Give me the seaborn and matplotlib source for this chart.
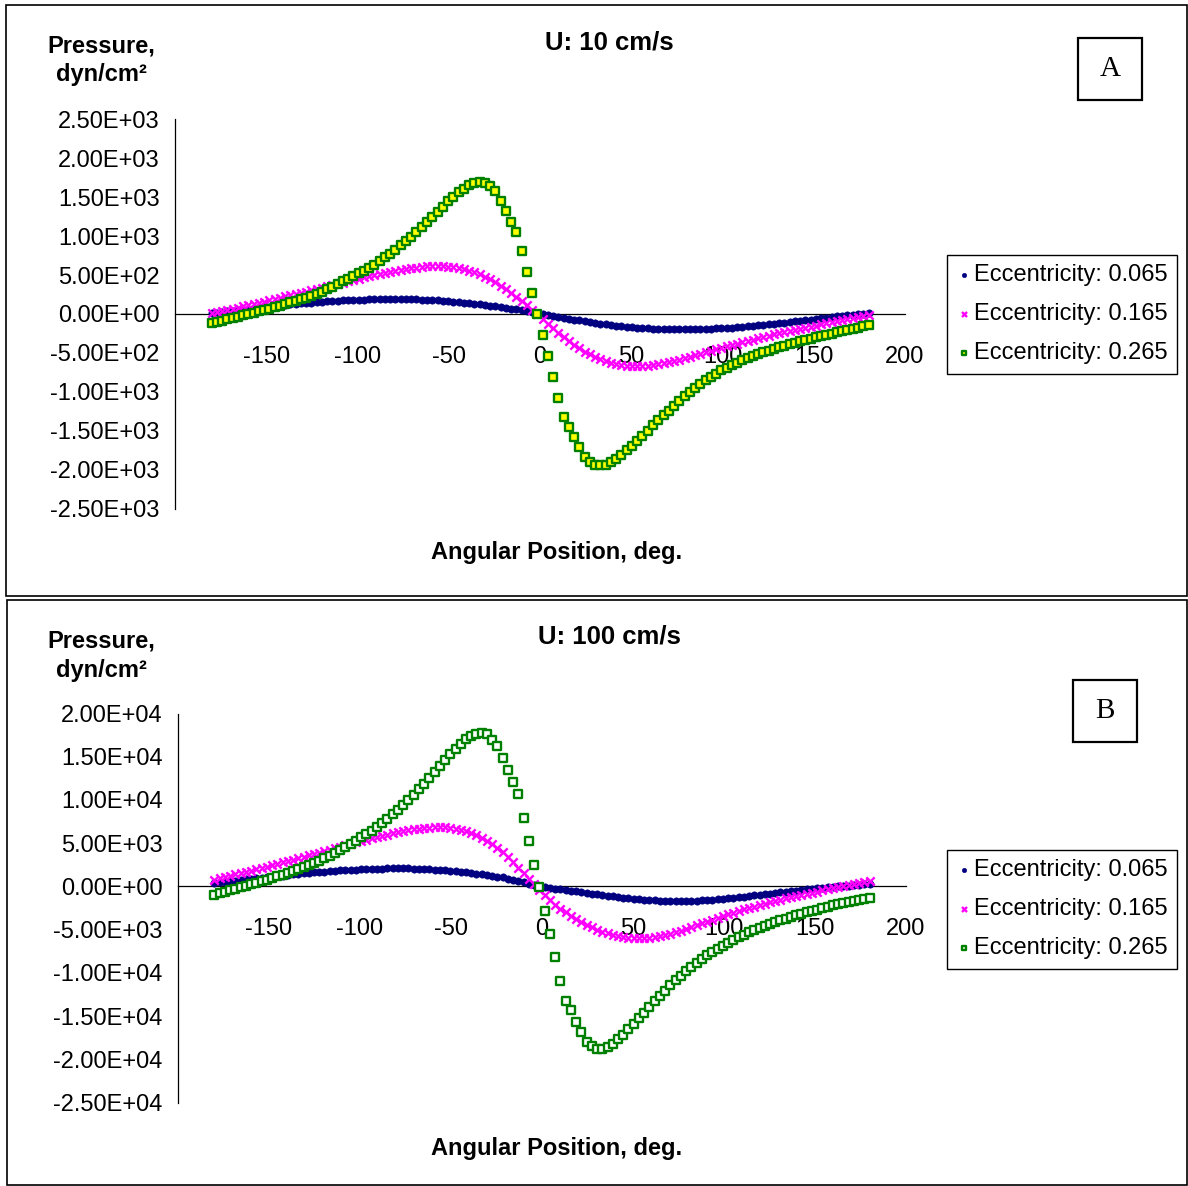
import matplotlib
matplotlib.use('Agg')
import matplotlib.pyplot as plt
import seaborn as sns
from matplotlib.patches import Rectangle

# Angular positions (deg), same grid for every series
ANGLE = [-180.00, -177.12, -174.24, -171.36, -168.48, -165.60, -162.72, -159.84, -156.96, -154.08,
         -151.20, -148.32, -145.44, -142.56, -139.68, -136.80, -133.92, -131.04, -128.16, -125.28,
         -122.40, -119.52, -116.64, -113.76, -110.88, -108.00, -105.12, -102.24, -99.36, -96.48,
         -93.60, -90.72, -87.84, -84.96, -82.08, -79.20, -76.32, -73.44, -70.56, -67.68,
         -64.80, -61.92, -59.04, -56.16, -53.28, -50.40, -47.52, -44.64, -41.76, -38.88,
         -36.00, -33.12, -30.24, -27.36, -24.48, -21.60, -18.72, -15.84, -12.96, -10.08,
         -7.20, -4.32, -1.44,
         1.44, 4.32, 7.20, 10.08, 12.96, 15.84, 18.72, 21.60, 24.48, 27.36,
         30.24, 33.12, 36.00, 38.88, 41.76, 44.64, 47.52, 50.40, 53.28, 56.16,
         59.04, 61.92, 64.80, 67.68, 70.56, 73.44, 76.32, 79.20, 82.08, 84.96,
         87.84, 90.72, 93.60, 96.48, 99.36, 102.24, 105.12, 108.00, 110.88, 113.76,
         116.64, 119.52, 122.40, 125.28, 128.16, 131.04, 133.92, 136.80, 139.68, 142.56,
         145.44, 148.32, 151.20, 154.08, 156.96, 159.84, 162.72, 165.60, 168.48, 171.36,
         174.24, 177.12, 180.00]

# U = 10 cm/s, pressure in dyn/cm^2
U10_E065 = [9, 17, 25, 33, 41, 49, 57, 65, 73, 81,
            88, 95, 102, 109, 116, 123, 129, 135, 141, 146,
            152, 157, 161, 166, 170, 174, 177, 180, 183, 186,
            188, 189, 191, 192, 193, 193, 193, 192, 191, 189,
            186, 183, 179, 175, 170, 165, 159, 153, 146, 139,
            131, 123, 115, 106, 97, 88, 78, 68, 58, 47,
            36, 25, 14,
            2, -10, -23, -36, -48, -60, -72, -83, -94, -105,
            -115, -124, -133, -141, -149, -156, -163, -169, -175, -180,
            -184, -188, -191, -194, -196, -197, -198, -198, -197, -196,
            -194, -192, -189, -186, -182, -178, -174, -169, -164, -158,
            -152, -146, -140, -133, -126, -119, -111, -104, -96, -88,
            -80, -72, -64, -56, -48, -40, -32, -24, -16, -8,
            -1, 6, 13]
U10_E165 = [8, 23, 38, 53, 68, 83, 97, 111, 126, 143,
            160, 177, 193, 208, 225, 240, 257, 273, 289, 306,
            322, 338, 355, 371, 388, 404, 421, 438, 454, 470,
            485, 501, 516, 530, 545, 557, 569, 580, 590, 597,
            604, 611, 614, 615, 613, 608, 600, 588, 575, 556,
            534, 508, 478, 444, 406, 365, 320, 272, 221, 168,
            112, 56, 1,
            -61, -123, -184, -243, -299, -350, -399, -443, -484, -520,
            -552, -580, -604, -624, -640, -653, -663, -669, -672, -671,
            -666, -658, -647, -634, -619, -603, -586, -568, -550, -531,
            -512, -493, -474, -455, -436, -417, -398, -380, -362, -345,
            -328, -311, -295, -279, -263, -248, -233, -218, -204, -190,
            -176, -162, -148, -134, -121, -107, -94, -81, -68, -55,
            -42, -28, -15]
U10_E265 = [-120, -103, -86, -69, -52, -35, -18, -1, 16, 34,
            52, 70, 89, 108, 128, 148, 169, 190, 212, 235,
            260, 288, 318, 350, 384, 418, 452, 486, 521, 557,
            595, 636, 680, 727, 776, 827, 881, 937, 995, 1055,
            1117, 1181, 1246, 1313, 1381, 1447, 1508, 1563, 1612, 1652,
            1680, 1692, 1688, 1640, 1581, 1456, 1320, 1187, 1059, 811,
            538, 264, 0,
            -269, -538, -812, -1081, -1325, -1453, -1585, -1714, -1838, -1897,
            -1940, -1945, -1940, -1903, -1860, -1810, -1752, -1692, -1628, -1563,
            -1498, -1433, -1368, -1304, -1241, -1178, -1116, -1057, -1002, -950,
            -901, -854, -809, -766, -725, -689, -656, -625, -596, -569,
            -543, -518, -494, -471, -449, -428, -408, -389, -370, -352,
            -334, -317, -300, -283, -267, -251, -235, -219, -204, -189,
            -174, -159, -144]

# U = 100 cm/s
U100_E065 = [440, 500, 560, 620, 680, 740, 800, 860, 920, 980,
             1030, 1100, 1170, 1240, 1310, 1380, 1440, 1500, 1560, 1610,
             1670, 1720, 1760, 1810, 1850, 1890, 1920, 1950, 1980, 2010,
             2030, 2040, 2060, 2070, 2080, 2080, 2080, 2070, 2060, 2040,
             2010, 1980, 1940, 1900, 1850, 1800, 1740, 1680, 1610, 1540,
             1460, 1380, 1300, 1210, 1120, 1030, 890, 750, 610, 450,
             290, 140, 10,
             -90, -170, -250, -330, -410, -490, -570, -660, -750, -840,
             -920, -990, -1080, -1160, -1240, -1310, -1380, -1440, -1500, -1550,
             -1590, -1630, -1660, -1690, -1710, -1720, -1730, -1730, -1700, -1670,
             -1630, -1590, -1540, -1490, -1430, -1370, -1310, -1240, -1175, -1100,
             -1030, -960, -900, -830, -760, -690, -610, -550, -480, -415,
             -350, -290, -230, -175, -120, -65, -10, 45, 100, 155,
             200, 245, 290]
U100_E165 = [780, 930, 1080, 1230, 1380, 1530, 1670, 1810, 1960, 2130,
             2300, 2470, 2630, 2780, 2950, 3100, 3270, 3430, 3590, 3760,
             3920, 4080, 4250, 4410, 4580, 4740, 4910, 5080, 5240, 5400,
             5550, 5710, 5860, 6000, 6150, 6270, 6390, 6500, 6600, 6670,
             6740, 6810, 6840, 6850, 6830, 6780, 6695, 6568, 6415, 6200,
             5940, 5640, 5285, 4890, 4425, 3930, 3385, 2800, 2180, 1530,
             860, 220, -385,
             -1005, -1575, -2100, -2580, -3020, -3420, -3805, -4150, -4475, -4750,
             -5015, -5240, -5440, -5600, -5735, -5842, -5935, -5990, -6020, -6010,
             -5960, -5880, -5770, -5640, -5475, -5295, -5110, -4910, -4710, -4500,
             -4290, -4080, -3870, -3665, -3460, -3250, -3045, -2850, -2670, -2500,
             -2330, -2160, -2000, -1840, -1680, -1530, -1380, -1230, -1104, -978,
             -852, -726, -600, -472, -354, -226, -108, 10, 132, 254,
             376, 508, 630]
U100_E265 = [-998, -821, -644, -468, -291, -114, 63, 240, 416, 604,
             791, 978, 1176, 1373, 1581, 1789, 2008, 2226, 2455, 2694,
             2954, 3245, 3557, 3890, 4244, 4597, 4951, 5304, 5668, 6043,
             6438, 6864, 7322, 7811, 8320, 8851, 9412, 9995, 10598, 11222,
             11867, 12532, 13208, 13905, 14612, 15299, 15933, 16505, 17015, 17431,
             17650, 17720, 17650, 16920, 16230, 14806, 13456, 12117, 10686, 7963,
             5193, 2493, -115,
             -2816, -5504, -8193, -10894, -13202, -14300, -15650, -16848, -17950, -18430,
             -18800, -18760, -18610, -18199, -17702, -17160, -16548, -15910, -15270, -14621,
             -13910, -13271, -12660, -12050, -11450, -10880, -10317, -9809, -9313, -8851,
             -8400, -7980, -7580, -7200, -6840, -6500, -6180, -5880, -5600, -5330,
             -5070, -4810, -4550, -4340, -4135, -3935, -3740, -3550, -3365, -3185,
             -3010, -2840, -2675, -2515, -2360, -2210, -2065, -1925, -1790, -1660,
             -1535, -1415, -1300]

LABELS = ['Eccentricity: 0.065', 'Eccentricity: 0.165', 'Eccentricity: 0.265']
X_TICKS = [-150, -100, -50, 0, 50, 100, 150, 200]
Y_TICKS_A = [2500, 2000, 1500, 1000, 500, 0, -500, -1000, -1500, -2000, -2500]
Y_TICKS_B = [20000, 15000, 10000, 5000, 0, -5000, -10000, -15000, -20000, -25000]

for s in [U10_E065, U10_E165, U10_E265, U100_E065, U100_E165, U100_E265]:
    assert len(s) == len(ANGLE), len(s)

sns.set_style('white')
plt.rcParams['font.family'] = ['Liberation Sans', 'DejaVu Sans']
plt.rcParams['text.color'] = 'black'

W, H = 1188, 1186
fig = plt.figure(figsize=(W / 100, H / 100), dpi=100)


def fx(px):
    return px / W


def fy(py):
    return 1 - py / H


def frame(x0, y0, x1, y1, lw=1.2):
    fig.patches.append(Rectangle((fx(x0), fy(y1)), fx(x1) - fx(x0), fy(y0) - fy(y1),
                                 transform=fig.transFigure, fill=False,
                                 edgecolor='black', linewidth=lw))


def draw_panel(rect, series, ylim, yticks, sq_face, title, letter, top, leg_top):
    ax = fig.add_axes(rect)
    blue, pink, green = series
    sns.scatterplot(x=ANGLE, y=blue, ax=ax, marker='o', s=28, color='#000080',
                    edgecolor='#000080', linewidth=0.4, label=LABELS[0], legend=False, zorder=3)
    sns.scatterplot(x=ANGLE, y=pink, ax=ax, marker='x', s=36, color='#FF00FF',
                    linewidth=1.7, label=LABELS[1], legend=False, zorder=4)
    sns.scatterplot(x=ANGLE, y=green, ax=ax, marker='s', s=26, color=sq_face,
                    edgecolor='#008000', linewidth=1.7, label=LABELS[2], legend=False, zorder=5)

    ax.set_xlim(-200, 200)
    ax.set_ylim(*ylim)
    ax.set_xticks(X_TICKS)
    ax.set_xticklabels([str(t) for t in X_TICKS])
    ax.set_yticks(yticks)
    ax.set_yticklabels([f'{t:.2E}' for t in yticks])
    ax.set_xlabel('')
    ax.set_ylabel('')
    ax.spines['top'].set_visible(False)
    ax.spines['right'].set_visible(False)
    ax.spines['bottom'].set_position(('data', 0))
    for sp in ('left', 'bottom'):
        ax.spines[sp].set_color('black')
        ax.spines[sp].set_linewidth(0.9)
    ax.tick_params(axis='x', direction='out', length=6, width=0.9, pad=17,
                   labelsize=17, colors='black')
    ax.tick_params(axis='y', direction='out', length=5, width=0.9, pad=6,
                   labelsize=17, colors='black')
    ax.set_facecolor('none')

    leg = ax.legend(loc='upper left', bbox_to_anchor=(fx(947), fy(leg_top)),
                    bbox_transform=fig.transFigure, fontsize=17, frameon=True,
                    fancybox=False, edgecolor='black', framealpha=1, markerscale=0.6,
                    handlelength=0.6, handletextpad=0.15, borderpad=0.4,
                    labelspacing=0.72, borderaxespad=0, scatterpoints=1)
    leg.get_frame().set_linewidth(1.0)
    for t in leg.get_texts():
        t.set_color('black')

    # titles and axis labels, placed like the original sheet
    fig.text(fx(609), fy(top + 37), title, ha='center', va='center',
             fontsize=18.5, fontweight='bold')
    fig.text(fx(101), fy(top + 41), 'Pressure,', ha='center', va='center',
             fontsize=17, fontweight='bold')
    fig.text(fx(101), fy(top + 70), 'dyn/cm\u00b2', ha='center', va='center',
             fontsize=17, fontweight='bold')
    fig.text(fx(557), fy(top + 548), 'Angular Position, deg.', ha='center',
             va='center', fontsize=17, fontweight='bold')

    lx = 1078 if letter == 'A' else 1073
    ly = top + 33 if letter == 'A' else top + 80
    frame(lx, ly, lx + 64, ly + 62, lw=1.6)
    fig.text(fx(lx + 32), fy(ly + 31), letter, ha='center', va='center',
             fontsize=21, family='Liberation Serif')
    return ax


frame(6, 5, 1187, 596)
frame(7, 600, 1187, 1185)

# axes rectangles in figure fractions (pixel positions of the original)
rect_a = [fx(175), fy(508.5), fx(905) - fx(175), fy(119.5) - fy(508.5)]
rect_b = [fx(178), fy(1102.5), fx(906) - fx(178), fy(713.5) - fy(1102.5)]

draw_panel(rect_a, (U10_E065, U10_E165, U10_E265), (-2500, 2500), Y_TICKS_A,
           '#FFFF00', 'U: 10 cm/s', 'A', 5, 255)
draw_panel(rect_b, (U100_E065, U100_E165, U100_E265), (-25000, 20000), Y_TICKS_B,
           'white', 'U: 100 cm/s', 'B', 600, 850)

fig.savefig('out.png', dpi=100)
